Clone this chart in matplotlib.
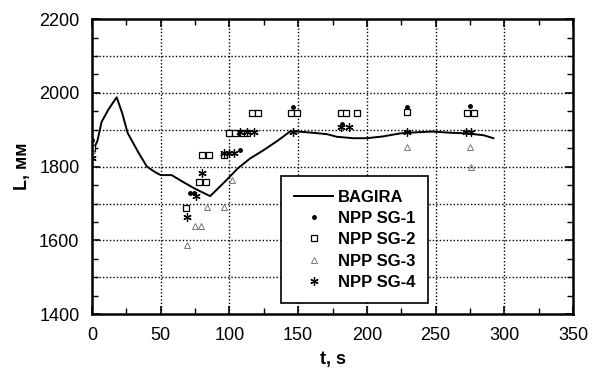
import matplotlib
matplotlib.use("Agg")
import matplotlib.pyplot as plt
from matplotlib.ticker import MultipleLocator

plt.rcParams["font.family"] = ["Liberation Sans", "DejaVu Sans"]

# BAGIRA calculated level
bagira_t = [1, 4, 7, 12, 18, 22, 26, 34, 40, 46, 50, 58, 66, 75, 86, 92, 98,
            106, 115, 125, 135, 144, 150, 160, 171, 178, 190, 200, 212, 224,
            236, 248, 260, 273, 285, 292]
bagira_L = [1845, 1870, 1921, 1955, 1988, 1945, 1891, 1837, 1800, 1785, 1777,
            1777, 1759, 1740, 1720, 1742, 1764, 1795, 1822, 1845, 1870, 1895,
            1895, 1892, 1888, 1881, 1877, 1877, 1882, 1890, 1893, 1895, 1892,
            1890, 1885, 1877]

# NPP measurements
sg1_t = [0, 71, 74, 108, 146, 182, 229, 275]
sg1_L = [1872, 1728, 1728, 1845, 1962, 1915, 1962, 1965]

sg2_t = [0, 68.5, 78, 83, 80, 85, 96, 100, 104, 109, 113, 116.5, 121, 145,
         149, 181, 185, 193, 229, 273, 278]
sg2_L = [1850, 1688, 1759, 1759, 1831, 1831, 1831, 1890, 1890, 1890, 1890,
         1945, 1945, 1945, 1945, 1945, 1945, 1945, 1949, 1945, 1945]

sg3_t = [0, 69, 75, 79, 84, 96, 102, 229, 275, 276]
sg3_L = [1845, 1587, 1638, 1638, 1690, 1690, 1764, 1854, 1854, 1800]

sg4_t = [0, 69, 76, 80, 96, 100, 103, 108, 113, 118, 146, 181, 187, 229,
         272, 276]
sg4_L = [1823, 1664, 1720, 1782, 1836, 1836, 1836, 1895, 1895, 1895, 1895,
         1908, 1908, 1895, 1895, 1895]

x_grid = [50, 100, 150, 200, 250, 300]
y_grid = [1500, 1600, 1700, 1800, 1900, 2000, 2100]

fig = plt.figure(figsize=(5.97, 3.74), dpi=100)
ax = fig.add_axes([0.154, 0.160, 0.806, 0.789])

# dotted grid: every 50 s on x, every 100 mm on y
grid_kw = dict(color="black", linewidth=1, linestyle=(0, (1, 1.5)), zorder=0)
for gx in x_grid:
    ax.axvline(gx, **grid_kw)
for gy in y_grid:
    ax.axhline(gy, **grid_kw)

ax.plot(bagira_t, bagira_L, color="black", linewidth=1.4, label="BAGIRA")
ax.plot(sg1_t, sg1_L, linestyle="none", marker="o", markersize=2.5,
        color="black", label="NPP SG-1")
ax.plot(sg2_t, sg2_L, linestyle="none", marker="s", markersize=5,
        markerfacecolor="white", markeredgecolor="black",
        markeredgewidth=0.9, label="NPP SG-2")
ax.plot(sg3_t, sg3_L, linestyle="none", marker="^", markersize=5,
        markerfacecolor="none", markeredgecolor="#777777",
        markeredgewidth=0.7, label="NPP SG-3")
ax.plot(sg4_t, sg4_L, linestyle="none", marker=(6, 2, 0), markersize=6,
        color="black", markeredgewidth=0.9, label="NPP SG-4")

ax.set_xlim(0, 350)
ax.set_ylim(1400, 2200)
ax.xaxis.set_major_locator(MultipleLocator(50))
ax.xaxis.set_minor_locator(MultipleLocator(25))
ax.yaxis.set_major_locator(MultipleLocator(200))
ax.yaxis.set_minor_locator(MultipleLocator(50))
ax.tick_params(which="both", direction="in", top=True, right=True,
               labelsize=13)
ax.tick_params(axis="y", which="major", pad=9)
ax.tick_params(axis="x", which="major", pad=9)
ax.tick_params(which="major", length=6, width=1.2)
ax.tick_params(which="minor", length=4, width=1)

for sp in ax.spines.values():
    sp.set_linewidth(1.8)

ax.set_xlabel("t, s", fontsize=13, fontweight="bold", labelpad=5)
ax.set_ylabel("L, мм", fontsize=13, fontweight="bold", labelpad=6)

leg = ax.legend(loc="lower left", bbox_to_anchor=(0.393, 0.037),
                borderaxespad=0, fancybox=False, framealpha=1,
                edgecolor="black", handlelength=2.3, labelspacing=0.38,
                borderpad=0.8, handletextpad=0.3,
                prop={"size": 12, "weight": "bold"})
leg.get_frame().set_linewidth(1.2)

fig.savefig("out.png", dpi=100)
